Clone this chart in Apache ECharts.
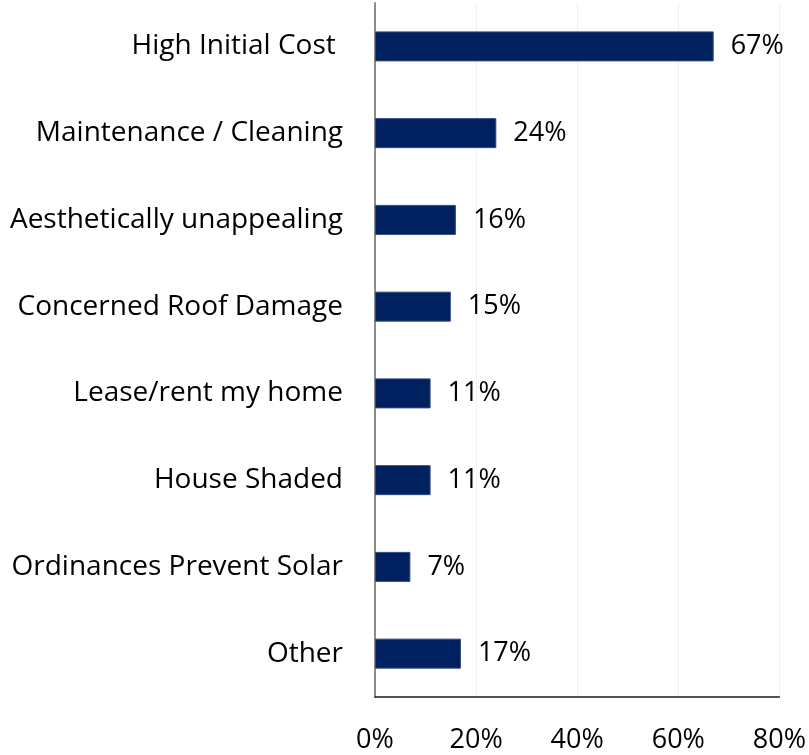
<!DOCTYPE html>
<html>
<head>
<meta charset="utf-8">
<script src="https://cdn.jsdelivr.net/npm/echarts@6/dist/echarts.min.js"></script>
<style>
  html, body { margin: 0; padding: 0; background: #fff; }
  #chart { width: 809px; height: 755px; }
</style>
</head>
<body>
<div id="chart"></div>
<script>
// Reasons for not installing solar panels (share of respondents, %)
const categories = [
  'High Initial Cost ',
  'Maintenance / Cleaning',
  'Aesthetically unappealing',
  'Concerned Roof Damage',
  'Lease/rent my home',
  'House Shaded',
  'Ordinances Prevent Solar',
  'Other'
];
const values = [67, 24, 16, 15, 11, 11, 7, 17];
const xTicks = [0, 20, 40, 60, 80];

const FONT = '"Open Sans", "Noto Sans", sans-serif';

const chart = echarts.init(document.getElementById('chart'), null, { renderer: 'canvas' });
chart.setOption({
  animation: false,
  backgroundColor: '#ffffff',
  grid: { left: 375, right: 28, top: 3, bottom: 58, containLabel: false },
  xAxis: {
    type: 'value',
    min: xTicks[0],
    max: xTicks[xTicks.length - 1],
    interval: xTicks[1] - xTicks[0],
    axisLine: { show: true, lineStyle: { color: '#1a1a1a', width: 1.5 } },
    axisTick: { show: false },
    splitLine: { show: true, lineStyle: { color: '#f1f1f1', width: 1 } },
    axisLabel: {
      margin: 30,
      fontFamily: FONT,
      fontSize: 27,
      fontWeight: 500,
      color: '#000',
      formatter: v => v + '%'
    }
  },
  yAxis: {
    type: 'category',
    inverse: true,
    data: categories,
    axisLine: { show: true, lineStyle: { color: '#8c8c8c', width: 2 } },
    axisTick: { show: false },
    axisLabel: {
      margin: 32,
      fontFamily: FONT,
      fontSize: 28,
      fontWeight: 500,
      color: '#000'
    }
  },
  series: [{
    type: 'bar',
    data: values,
    barWidth: 30,
    itemStyle: { color: '#002060', borderColor: '#2f4a80', borderWidth: 1 },
    label: {
      show: true,
      position: 'right',
      distance: 17,
      fontFamily: FONT,
      fontSize: 27,
      fontWeight: 500,
      color: '#000',
      formatter: p => p.value + '%'
    }
  }]
});
</script>
</body>
</html>
